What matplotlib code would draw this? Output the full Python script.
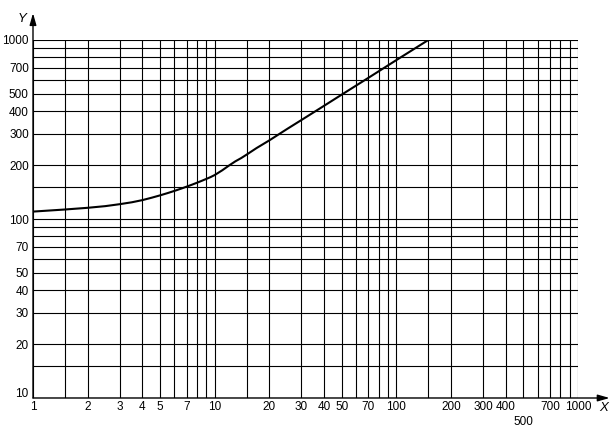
import matplotlib
matplotlib.use("Agg")
import matplotlib.pyplot as plt
from matplotlib.ticker import FixedLocator, NullFormatter

plt.rcParams['font.family'] = ['Liberation Sans', 'DejaVu Sans']

# curve data
curve_x = [1, 1.5, 2, 2.5, 3, 3.5, 4, 4.5, 5, 5.5, 6, 6.5, 7, 7.5, 8, 8.5, 9, 9.5, 10,
           11, 12, 13, 14, 15, 17, 20, 25, 30, 38, 50, 69, 100, 150]
curve_y = [110, 113, 115.5, 118, 121, 124, 127.5, 131.5, 135.5, 139.5, 143.5, 147.5,
           151.5, 155.5, 159.5, 163.5, 167.5, 171.5, 176,
           187, 199, 210, 219, 229, 249, 275, 318, 357, 415, 495, 608, 772, 1000]

# grid positions
x_grid = [1, 1.5, 2, 3, 4, 5, 6, 7, 8, 9,
          10, 15, 20, 30, 40, 50, 60, 70, 80, 90,
          100, 150, 200, 300, 400, 500, 600, 700, 800, 900, 1000]
y_grid = [10, 15, 20, 30, 40, 50, 60, 70, 80, 90,
          100, 150, 200, 300, 400, 500, 600, 700, 800, 900, 1000]

x_ticks = [1, 2, 3, 4, 5, 7, 10, 20, 30, 40, 50, 70, 100, 200, 300, 400, 700, 1000]
x_labels = ['1', '2', '3', '4', '5', '7', '10', '20', '30', '40', '50', '70', '100',
            '200', '300', '400', '700', '1000']
x_low_tick = 500
x_low_label = '500'
y_ticks = [20, 30, 40, 50, 70, 100, 200, 300, 400, 500, 700, 1000]
y_labels = ['20', '30', '40', '50', '70', '100', '200', '300', '400', '500', '700', '1000']

W, H = 614, 430
fig = plt.figure(figsize=(W / 100, H / 100), dpi=100)
L, R, T, B = 33, 578, 40, 398
ax = fig.add_axes([L / W, 1 - B / H, (R - L) / W, (B - T) / H])
ax.set_xscale('log')
ax.set_yscale('log')
ax.set_xlim(1, 1000)
ax.set_ylim(10, 1000)

ax.xaxis.set_minor_locator(FixedLocator(x_grid))
ax.yaxis.set_minor_locator(FixedLocator(y_grid))
ax.xaxis.set_minor_formatter(NullFormatter())
ax.yaxis.set_minor_formatter(NullFormatter())
ax.set_xticks(x_ticks)
ax.set_xticklabels(x_labels)
ax.set_yticks(y_ticks)
ax.set_yticklabels(y_labels)
ax.tick_params(which='both', length=0, labelsize=8.5, colors='black')
ax.tick_params(axis='x', pad=2)
ax.tick_params(axis='y', pad=3)
ax.grid(which='both', color='black', linewidth=0.8)

for s in ax.spines.values():
    s.set_visible(False)

ax.plot(curve_x, curve_y, color='black', linewidth=1.5, zorder=5)

# lowered "500" label and "10" label on y axis
ax.text(x_low_tick, -0.066, x_low_label, transform=ax.get_xaxis_transform(),
        ha='center', va='center', fontsize=8.5)
ax.text(-0.008, 0.01, '10', transform=ax.transAxes, ha='right', va='center', fontsize=8.5)

# axis arrows
ax.annotate('', xy=(1.058, 0), xytext=(0, 0), xycoords='axes fraction',
            arrowprops=dict(arrowstyle='-|>,head_length=0.7,head_width=0.2', color='black',
                            lw=1.0, shrinkA=0, shrinkB=0), annotation_clip=False)
ax.annotate('', xy=(0, 1.075), xytext=(0, 0), xycoords='axes fraction',
            arrowprops=dict(arrowstyle='-|>,head_length=0.7,head_width=0.2', color='black',
                            lw=1.0, shrinkA=0, shrinkB=0), annotation_clip=False)
fig.text(604 / W, 1 - 408 / H, 'X', ha='center', va='center', fontsize=9.5, style='italic')
fig.text(22 / W, 1 - 19 / H, 'Y', ha='center', va='center', fontsize=9.5, style='italic')

fig.savefig('out.png', dpi=100)
